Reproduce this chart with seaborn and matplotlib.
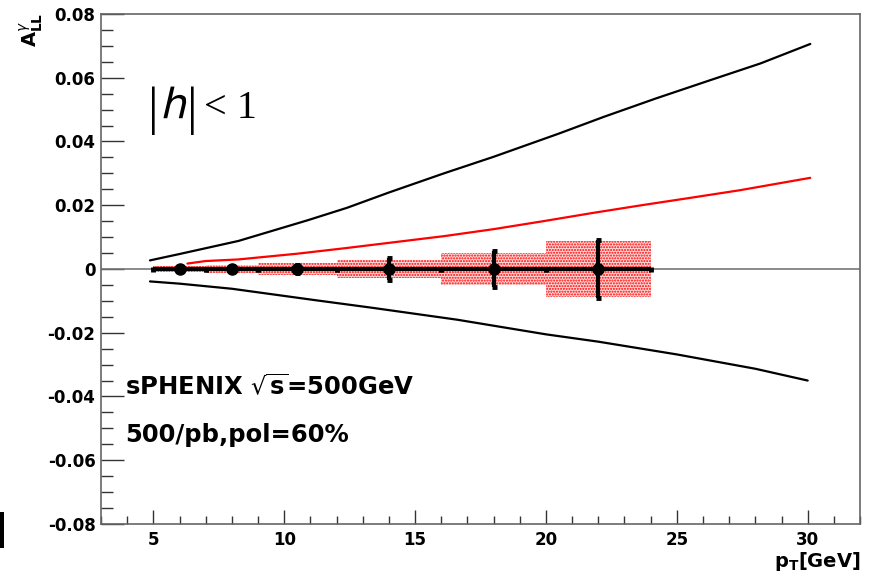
import numpy as np
import pandas as pd
import matplotlib
matplotlib.use("Agg")
import matplotlib.pyplot as plt
from matplotlib.ticker import MultipleLocator, FuncFormatter
from matplotlib.patches import Rectangle, PathPatch
from matplotlib.textpath import TextPath
from matplotlib.font_manager import FontProperties
from matplotlib.transforms import Affine2D, ScaledTranslation
import seaborn as sns

# Projected statistical reach (black) and model prediction (red)
pt_upper = [4.87, 6.0, 8.25, 10.9, 12.4, 14.0, 16.1, 18.0, 20.5, 22.2, 24.2, 26.3, 28.2, 30.1]
all_upper = [0.0027, 0.0047, 0.0088, 0.0153, 0.0192, 0.0240, 0.0300, 0.0352, 0.0425, 0.0477,
             0.0535, 0.0593, 0.0645, 0.0706]

pt_lower = [4.87, 6.0, 8.0, 11.2, 13.3, 16.6, 20.0, 22.0, 25.0, 28.0, 30.0]
all_lower = [-0.0039, -0.0046, -0.0062, -0.0098, -0.0121, -0.0159, -0.0205, -0.0228, -0.0268,
             -0.0313, -0.0350]

pt_model = [6.3, 7.0, 8.25, 10.5, 12.4, 14.0, 16.1, 18.0, 19.9, 21.8, 23.65, 25.5, 27.4, 30.1]
all_model = [0.0017, 0.0025, 0.0030, 0.0048, 0.0066, 0.0082, 0.0103, 0.0125, 0.0150, 0.0176,
             0.0200, 0.0223, 0.0247, 0.0286]

# Projected measurement points
pt_points = [6.0, 8.0, 10.5, 14.0, 18.0, 22.0]
all_points = [0.0, 0.0, 0.0, 0.0, 0.0, 0.0]
stat_err = [0.0004, 0.0007, 0.0012, 0.0035, 0.0055, 0.0090]
bin_lo = [5.0, 7.0, 9.0, 12.0, 16.0, 20.0]
bin_hi = [7.0, 9.0, 12.0, 16.0, 20.0, 24.0]
syst_err = [0.0008, 0.0013, 0.0018, 0.0029, 0.0050, 0.0087]

sns.set_theme(style="white")
plt.rcParams["font.family"] = ["DejaVu Sans"]
plt.rcParams["text.color"] = "black"
plt.rcParams["xtick.color"] = "black"
plt.rcParams["ytick.color"] = "black"
plt.rcParams["xtick.labelcolor"] = "black"
plt.rcParams["ytick.labelcolor"] = "black"
plt.rcParams["mathtext.fontset"] = "dejavusans"
plt.rcParams["hatch.linewidth"] = 1.0

fig = plt.figure(figsize=(8.74, 5.76), dpi=100)
ax = fig.add_axes([0.1156, 0.0903, 0.8684, 0.8854])

df_up = pd.DataFrame({"pt": pt_upper, "all": all_upper})
df_lo = pd.DataFrame({"pt": pt_lower, "all": all_lower})
df_md = pd.DataFrame({"pt": pt_model, "all": all_model})

ax.axhline(0, color="#777777", lw=1.2, zorder=1)

sns.lineplot(data=df_up, x="pt", y="all", ax=ax, color="black", lw=1.6,
             estimator=None, sort=False, zorder=3)
sns.lineplot(data=df_lo, x="pt", y="all", ax=ax, color="black", lw=1.6,
             estimator=None, sort=False, zorder=3)
sns.lineplot(data=df_md, x="pt", y="all", ax=ax, color="red", lw=1.6,
             estimator=None, sort=False, zorder=3)

# Systematic uncertainty boxes
lo = np.array(bin_lo)
hi = np.array(bin_hi)
syst = np.array(syst_err)
ax.bar(lo, 2 * syst, width=hi - lo, bottom=-syst, align="edge",
       facecolor=(1.0, 0.5, 0.5, 0.3), edgecolor="red", hatch="......",
       linewidth=0, zorder=2)

# Statistical uncertainties and bin widths
x = np.array(pt_points)
ax.errorbar(x, all_points, xerr=[x - lo, hi - x], yerr=stat_err, fmt="o",
            color="black", ms=8, elinewidth=3.0, capsize=1.8, capthick=3.5, zorder=4)

ax.set_xlim(3, 32)
ax.set_ylim(-0.08, 0.08)
ax.set_xlabel("")
ax.set_ylabel("")

ax.xaxis.set_major_locator(MultipleLocator(5))
ax.xaxis.set_minor_locator(MultipleLocator(1))
ax.yaxis.set_major_locator(MultipleLocator(0.02))
ax.yaxis.set_minor_locator(MultipleLocator(0.005))
ax.yaxis.set_major_formatter(FuncFormatter(lambda v, p: "0" if abs(v) < 1e-9 else f"{v:.2f}"))

ax.tick_params(axis="y", which="major", direction="in", length=16.5, width=1.0,
               color="#333333", labelsize=12, pad=4, labelcolor="black")
ax.tick_params(axis="y", which="minor", direction="in", length=8.5, width=1.0, color="#333333")
ax.tick_params(axis="x", which="major", direction="in", length=10, width=1.0,
               color="#333333", labelsize=12, pad=5, labelcolor="black")
ax.tick_params(axis="x", which="minor", direction="in", length=5.5, width=1.0, color="#333333")
ax.tick_params(left=True, bottom=True, right=False, top=False, which="both")
for lab in ax.get_xticklabels() + ax.get_yticklabels():
    lab.set_fontweight("bold")

for sp in ax.spines.values():
    sp.set_color("#666666")
    sp.set_linewidth(1.2)

# Pseudorapidity cut label: serif bars and "< 1", slanted sans "h" in between
serif = ["Liberation Serif", "DejaVu Serif"]
ax.text(4.80, 0.0455, "|", fontsize=38, family=serif, fontweight="normal",
        ha="left", va="baseline", color="black")
h_path = TextPath((0, 0), "h", size=30,
                  prop=FontProperties(family="DejaVu Sans", weight="normal"))
h_trans = (Affine2D().skew_deg(13, 0).scale(fig.dpi / 72.0)
           + ScaledTranslation(5.24, 0.0473, ax.transData))
ax.add_patch(PathPatch(h_path, transform=h_trans, facecolor="black",
                       edgecolor="none", clip_on=False, zorder=5))
ax.text(6.28, 0.0455, "|", fontsize=38, family=serif, fontweight="normal",
        ha="left", va="baseline", color="black")
ax.text(6.95, 0.0473, "< 1", fontsize=29, family=serif, fontweight="normal",
        ha="left", va="baseline", color="black")

ax.text(3.92, -0.0397, r"sPHENIX $\sqrt{\mathbf{s}}$=500GeV", fontsize=17.5,
        fontweight="bold", ha="left", va="baseline", color="black")
ax.text(3.92, -0.0544, "500/pb,pol=60%", fontsize=17.5, fontweight="bold",
        ha="left", va="baseline", color="black")

fig.text(0.036, 0.978, r"$\mathbf{A}_{\mathbf{LL}}^{\gamma}$", rotation=90,
         fontsize=14, ha="center", va="top", color="black")
fig.text(0.984, 0.016, r"$\mathbf{p}_{\mathbf{T}}$[GeV]", fontsize=14,
         fontweight="bold", ha="right", va="baseline", color="black")

fig.add_artist(Rectangle((0.0, 0.049), 0.0046, 0.062, transform=fig.transFigure,
                         facecolor="black", edgecolor="none"))

fig.savefig("out.png", dpi=100)
